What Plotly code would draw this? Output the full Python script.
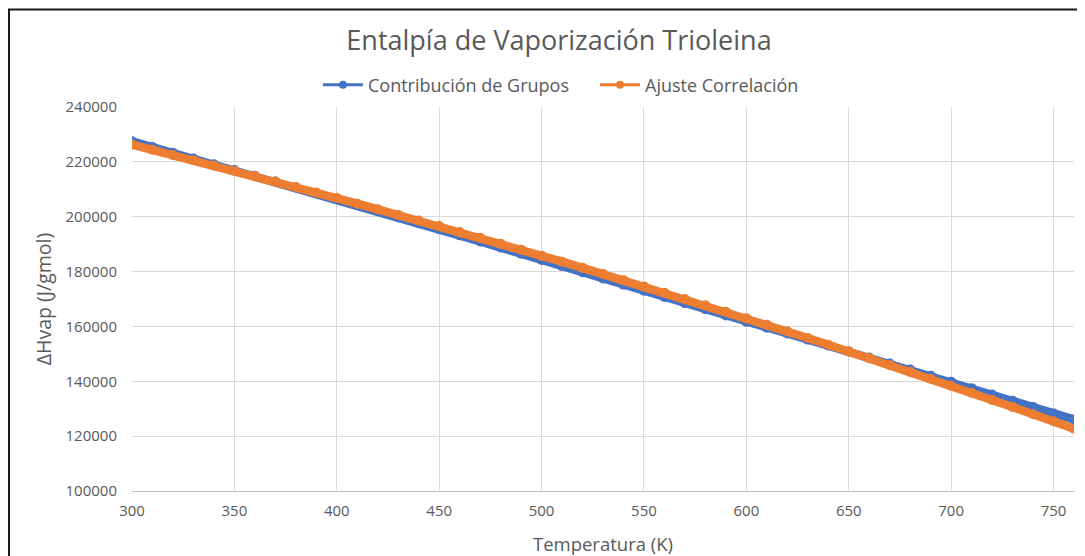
import plotly.graph_objects as go

temperatura = [300, 310, 320, 330, 340, 350, 360, 370, 380, 390, 400, 410, 420, 430, 440,
               450, 460, 470, 480, 490, 500, 510, 520, 530, 540, 550, 560, 570, 580, 590,
               600, 610, 620, 630, 640, 650, 660, 670, 680, 690, 700, 710, 720, 730, 740,
               750, 760]

contribucion_grupos = [227500, 225400, 223300, 221200, 219100, 217000, 214900, 212800, 210700,
                       208550, 206400, 204200, 202000, 199800, 197600, 195400, 193200, 191000,
                       188750, 186500, 184250, 182000, 179750, 177500, 175250, 173000, 170750,
                       168500, 166250, 164000, 161750, 159550, 157400, 155200, 153050, 150900,
                       148700, 146500, 144300, 142050, 139800, 137500, 135200, 132900, 130600,
                       128300, 126100]

ajuste_correlacion = [226300, 224400, 222500, 220600, 218700, 216800, 214850, 212850, 210850,
                      208850, 206800, 204750, 202700, 200650, 198650, 196600, 194450, 192300,
                      190150, 188000, 185800, 183600, 181350, 179100, 176850, 174600, 172300,
                      170000, 167700, 165350, 163000, 160600, 158200, 155800, 153350, 150900,
                      148450, 145950, 143450, 140950, 138400, 135800, 133200, 130600, 128000,
                      125400, 122700]

series_names = ["Contribución de Grupos", "Ajuste Correlación"]
series_colors = ["#4472C4", "#ED7D31"]

x_ticks = [300, 350, 400, 450, 500, 550, 600, 650, 700, 750]
y_ticks = [100000, 120000, 140000, 160000, 180000, 200000, 220000, 240000]

FONT = "Open Sans"
GRAY = "#595959"

# page is offset by the browser body margin (8px); plot area in figure px:
L, R, T, B = 124, 1066, 99, 483
W, H = 1085, 556

fig = go.Figure()
legend_widths = [222, None]
for name, color, vals, lw in zip(series_names, series_colors,
                                 [contribucion_grupos, ajuste_correlacion], legend_widths):
    fig.add_trace(go.Scatter(
        x=temperatura, y=vals, name=name, mode="lines+markers",
        line=dict(color=color, width=8.5), marker=dict(color=color, size=10),
        showlegend=False, legendgroup=name,
    ))
    # legend entry drawn like Excel's (thin line + circle marker)
    fig.add_trace(go.Scatter(
        x=[None], y=[None], name=name, mode="lines+markers",
        line=dict(color=color, width=3), marker=dict(color=color, size=8),
        showlegend=True, legendgroup=name, legendwidth=lw,
    ))

fig.update_layout(
    width=W, height=H,
    margin=dict(l=L, r=W - R, t=T, b=H - B),
    paper_bgcolor="white", plot_bgcolor="white",
    font=dict(family=FONT, color=GRAY),
    title=dict(text="Entalpía de Vaporización Trioleina", x=551 / W, xanchor="center",
               y=1 - 33 / H, yanchor="middle",
               font=dict(family=FONT, size=27, color=GRAY)),
    legend=dict(orientation="h", x=(553 - L) / (R - L), xanchor="center",
                y=1 + (T - 77) / (B - T), yanchor="middle",
                font=dict(family=FONT, size=18, color=GRAY), itemwidth=40,
                bgcolor="rgba(0,0,0,0)", tracegroupgap=0),
)
fig.update_xaxes(
    range=[300, 760], tickvals=x_ticks, showgrid=True, gridcolor="#d9d9d9", gridwidth=1,
    showline=True, linecolor="#bfbfbf", linewidth=1, zeroline=False,
    tickfont=dict(family=FONT, size=15, color=GRAY), ticks="", ticklabelstandoff=6,
    title=dict(text="Temperatura (K)", font=dict(family=FONT, size=18.5, color=GRAY), standoff=19),
)
fig.update_yaxes(
    range=[100000, 240000], tickvals=y_ticks, tickformat="d", showgrid=True,
    gridcolor="#d9d9d9", gridwidth=1, showline=False, zeroline=False,
    tickfont=dict(family=FONT, size=15, color=GRAY), ticks="", ticklabelstandoff=14,
    title=dict(text="ΔHvap (J/gmol)", font=dict(family=FONT, size=19.5, color=GRAY), standoff=8),
)

# outer chart frame (dark border of the original chart object)
fig.add_shape(type="rect", xref="paper", yref="paper",
              x0=(1 - L) / (R - L), x1=(W + 20 - L) / (R - L),
              y0=-(H + 20 - B) / (B - T), y1=1 + (T - 1.5) / (B - T),
              line=dict(color="#1a1a1a", width=2), fillcolor="rgba(0,0,0,0)", layer="above")

fig.write_html("out.html")
